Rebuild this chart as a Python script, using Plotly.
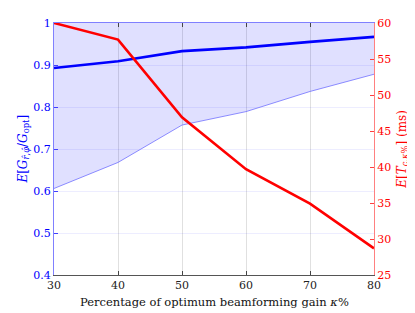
import plotly.graph_objects as go

kappa = [30, 40, 50, 60, 70, 80]
gain_mean = [0.893, 0.909, 0.933, 0.942, 0.955, 0.967]
gain_lower = [0.606, 0.668, 0.757, 0.789, 0.837, 0.878]
gain_upper = [1.0, 1.0, 1.0, 1.0, 1.0, 1.0]
time_ms = [60.0, 57.7, 46.9, 39.7, 34.9, 28.7]

left_ticks = [0.4, 0.5, 0.6, 0.7, 0.8, 0.9, 1.0]
left_labels = ["0.4", "0.5", "0.6", "0.7", "0.8", "0.9", "1"]
right_ticks = [25, 30, 35, 40, 45, 50, 55, 60]
x_ticks = [30, 40, 50, 60, 70, 80]

font_fam = "DejaVu Serif"

fig = go.Figure()
fig.add_trace(go.Scatter(x=kappa, y=gain_upper, mode="lines",
                         line=dict(width=0, color="rgba(0,0,255,0)"),
                         showlegend=False, hoverinfo="skip"))
fig.add_trace(go.Scatter(x=kappa, y=gain_lower, mode="lines",
                         line=dict(width=0.8, color="#7070ff"),
                         fill="tonexty", fillcolor="rgba(0,0,255,0.12)",
                         showlegend=False))
fig.add_trace(go.Scatter(x=kappa, y=gain_mean, mode="lines",
                         line=dict(width=2.6, color="#0000ff"),
                         showlegend=False))
fig.add_trace(go.Scatter(x=kappa, y=time_ms, mode="lines", yaxis="y2",
                         line=dict(width=2.6, color="#ff0000"),
                         showlegend=False))
fig.add_trace(go.Scatter(x=[30], y=[None], xaxis="x2", showlegend=False,
                         hoverinfo="skip"))

fig.update_layout(
    width=407, height=305,
    margin=dict(l=46, r=41, t=15, b=38, autoexpand=False),
    plot_bgcolor="white", paper_bgcolor="white",
    font=dict(family=font_fam, size=11, color="black"),
    xaxis=dict(range=[30, 80], tickvals=x_ticks, ticks="inside", ticklen=4,
               tickcolor="#444", showline=True, linecolor="#555", linewidth=1,
               showgrid=True, gridcolor="rgba(0,0,0,0.12)",
               gridwidth=1, zeroline=False, automargin=False,
               tickfont=dict(family=font_fam, size=11, color="#222")),
    xaxis2=dict(range=[30, 80], overlaying="x", side="top", tickvals=x_ticks,
                showticklabels=False, ticks="inside", ticklen=4, tickcolor="#444",
                showline=True, linecolor="#8080ff", linewidth=1, showgrid=False,
                zeroline=False, automargin=False),
    yaxis=dict(range=[0.4, 1.0], tickvals=left_ticks, ticktext=left_labels,
               ticks="inside", ticklen=4, tickcolor="#4040ff",
               showline=True, linecolor="#8080ff", linewidth=1.2,
               showgrid=True, gridcolor="rgba(0,0,255,0.07)", zeroline=False,
               automargin=False,
               tickfont=dict(family=font_fam, size=11, color="#0000ff")),
    yaxis2=dict(range=[25, 60], tickvals=right_ticks, overlaying="y", side="right",
                ticks="inside", ticklen=4, tickcolor="#ff4040",
                showline=True, linecolor="#ff8080", linewidth=1.2,
                showgrid=False, zeroline=False, automargin=False,
                tickfont=dict(family=font_fam, size=11, color="#ff0000")),
    annotations=[
        dict(text="Percentage of optimum beamforming gain <i>κ</i>%",
             xref="paper", yref="paper", x=0.5, y=-0.07,
             showarrow=False, xanchor="center", yanchor="top",
             font=dict(family=font_fam, size=11.5, color="#111")),
        dict(text="<i>E</i>[<i>G</i><sub><i>r̂</i>,<i>φ̂</i></sub>/<i>G</i><sub>opt</sub>]",
             xref="paper", yref="paper", x=-0.095, y=0.5, textangle=-90,
             showarrow=False, xanchor="center", yanchor="middle",
             font=dict(family=font_fam, size=12, color="#0000ff")),
        dict(text="<i>E</i>[<i>T</i><sub><i>c</i>,<i>κ</i>%</sub>] (ms)",
             xref="paper", yref="paper", x=1.09, y=0.5, textangle=-90,
             showarrow=False, xanchor="center", yanchor="middle",
             font=dict(family=font_fam, size=12, color="#ff0000")),
    ],
)

fig.write_html("out.html")
